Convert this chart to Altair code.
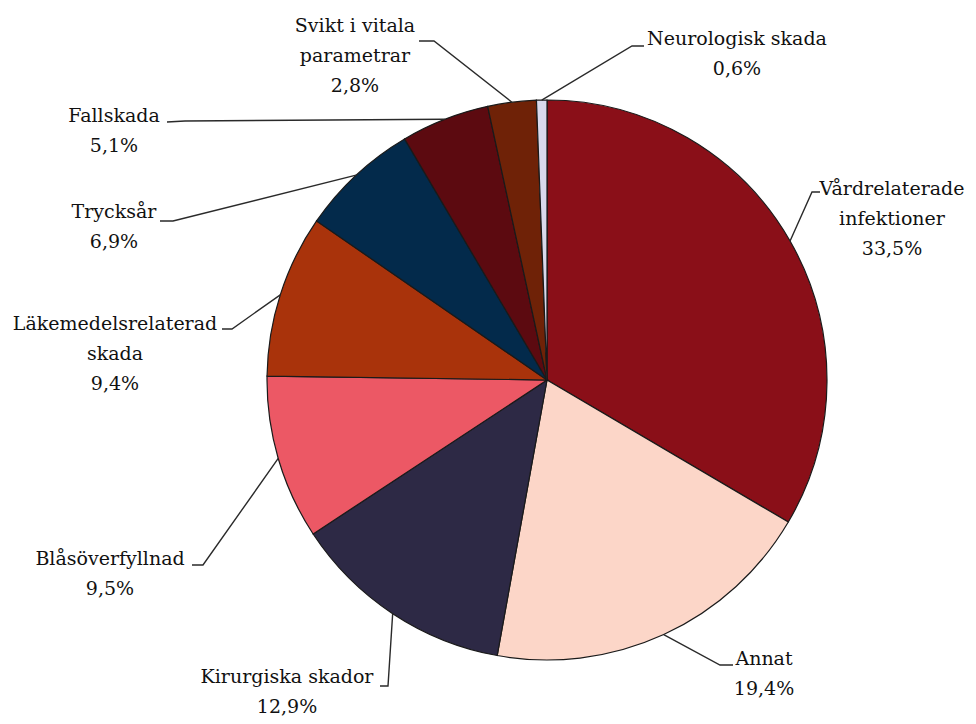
import math
import altair as alt
import pandas as pd

# ---- data ----
categories = ["Vårdrelaterade infektioner", "Annat", "Kirurgiska skador",
              "Blåsöverfyllnad", "Läkemedelsrelaterad skada", "Trycksår",
              "Fallskada", "Svikt i vitala parametrar", "Neurologisk skada"]
shares = [33.5, 19.4, 12.9, 9.5, 9.4, 6.9, 5.1, 2.8, 0.6]
label_lines = [["Vårdrelaterade", "infektioner", "33,5%"],
               ["Annat", "19,4%"],
               ["Kirurgiska skador", "12,9%"],
               ["Blåsöverfyllnad", "9,5%"],
               ["Läkemedelsrelaterad", "skada", "9,4%"],
               ["Trycksår", "6,9%"],
               ["Fallskada", "5,1%"],
               ["Svikt i vitala", "parametrar", "2,8%"],
               ["Neurologisk skada", "0,6%"]]
colors = ["#8A0F18", "#FCD6C8", "#2D2945", "#EC5865", "#A9330B",
          "#032A4B", "#5C0A10", "#6F2207", "#D9D9EC"]

# ---- layout (page pixel coordinates) ----
M = 8
W, H = 960, 708
CX, CY, R = 547 - M, 380 - M, 280
label_pos = [(892, 195), (764, 665), (287, 683), (110, 565), (115, 330),
             (114, 218), (114, 122), (355, 32), (737, 45)]
elbow_pos = [(812, 192), (720, 665), (388, 686), (203, 565), (232, 329),
             (173, 221), (185, 121), (434, 41), (632, 46)]
end_pos = [(820, 192), (733, 665), (380, 686), (192, 565), (222, 329),
           (160, 221), (167, 122), (419, 41), (644, 46)]

total = sum(shares)
pie = pd.DataFrame({"cat": categories, "share": shares, "idx": range(len(categories))})

rows = []
cum = 0.0
for i, (c, s) in enumerate(zip(categories, shares)):
    mid = (cum + s / 2) / total * 2 * math.pi
    cum += s
    ex = CX + R * math.sin(mid)
    ey = CY - R * math.cos(mid)
    rows.append({"cat": c, "o": 0, "x": ex, "y": ey})
    rows.append({"cat": c, "o": 1, "x": elbow_pos[i][0] - M, "y": elbow_pos[i][1] - M})
    rows.append({"cat": c, "o": 2, "x": end_pos[i][0] - M, "y": end_pos[i][1] - M})
leaders = pd.DataFrame(rows)

labels = pd.DataFrame({
    "cat": categories,
    "text": ["\n".join(l) for l in label_lines],
    "x": [p[0] - M for p in label_pos],
    "y": [p[1] - M for p in label_pos],
})

xs = alt.Scale(domain=[0, W], nice=False, zero=False)
ys = alt.Scale(domain=[0, H], nice=False, zero=False, reverse=True)

arc = alt.Chart(pie).mark_arc(outerRadius=R, stroke="#1a1a1a", strokeWidth=1.2).encode(
    theta=alt.Theta("share:Q", stack=True),
    order=alt.Order("idx:Q"),
    color=alt.Color("cat:N", scale=alt.Scale(domain=categories, range=colors), legend=None),
    x=alt.value(CX),
    y=alt.value(CY),
)

lines = alt.Chart(leaders).mark_line(color="#2a2a2a", strokeWidth=1.4).encode(
    x=alt.X("x:Q", scale=xs, axis=None),
    y=alt.Y("y:Q", scale=ys, axis=None),
    detail="cat:N",
    order="o:Q",
)

text = alt.Chart(labels).mark_text(
    lineBreak="\n", font="DejaVu Serif",
    fontSize=19, lineHeight=30,
    align="center", baseline="alphabetic", color="#111111",
).encode(
    x=alt.X("x:Q", scale=xs, axis=None),
    y=alt.Y("y:Q", scale=ys, axis=None),
    text="text:N",
)

chart = alt.layer(arc, lines, text).properties(
    width=W, height=H, padding=0, autosize="none"
).configure_view(stroke=None)

chart.save("out.html", embed_options={"renderer": "svg", "actions": False})
